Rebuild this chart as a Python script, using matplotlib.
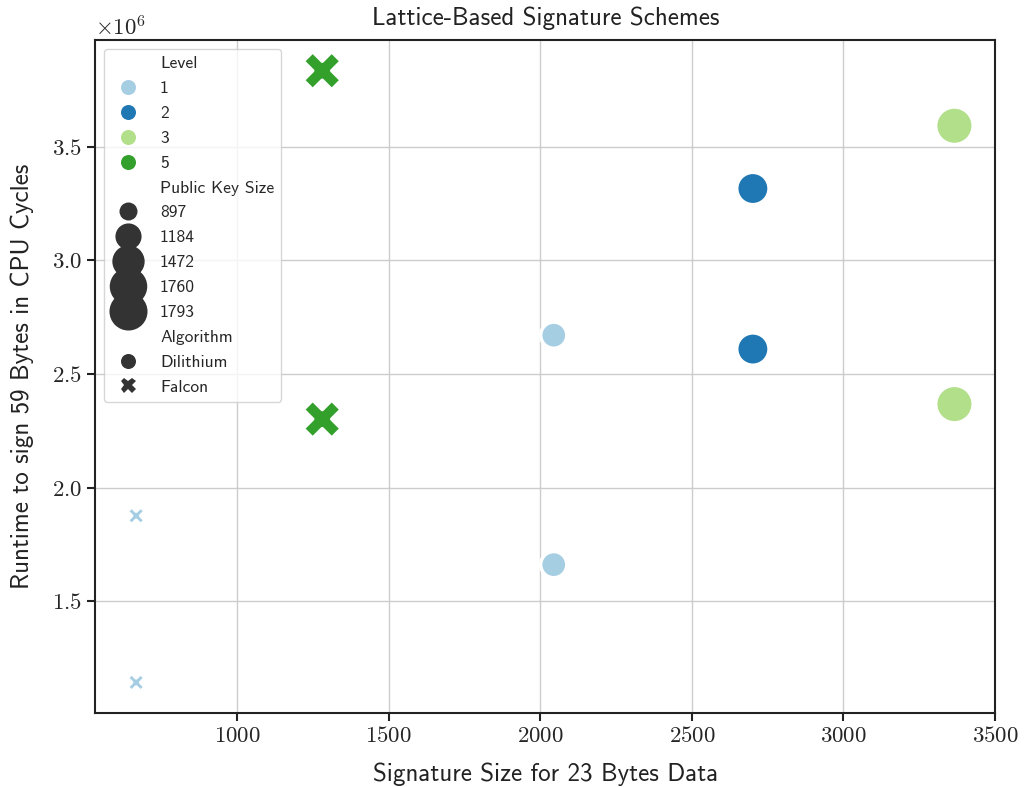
import numpy as np
import pandas as pd
import matplotlib
matplotlib.use("Agg")
import matplotlib.pyplot as plt
import seaborn as sns

# values
algorithm = ["Dilithium", "Dilithium", "Dilithium", "Dilithium", "Dilithium", "Dilithium",
             "Falcon", "Falcon", "Falcon", "Falcon"]
level = [1, 1, 2, 2, 3, 3, 1, 1, 5, 5]
sig_size = [2044, 2044, 2701, 2701, 3366, 3366, 666, 666, 1280, 1280]
pk_size = [1184, 1184, 1472, 1472, 1760, 1760, 897, 897, 1793, 1793]
cycles = [2.671e6, 1.662e6, 3.316e6, 2.610e6, 3.592e6, 2.368e6,
          1.877e6, 1.144e6, 3.834e6, 2.302e6]

df = pd.DataFrame({
    "Algorithm": algorithm,
    "Level": level,
    "Signature Size": sig_size,
    "Public Key Size": pk_size,
    "Cycles": cycles,
})

sns.set_theme(style="ticks", rc={"axes.grid": True, "grid.color": ".8"})
plt.rcParams["font.family"] = "cmr10"
plt.rcParams["mathtext.fontset"] = "cm"
plt.rcParams["axes.formatter.use_mathtext"] = True

fig, ax = plt.subplots(figsize=(10.24, 7.87), dpi=100)
fig.subplots_adjust(left=0.093, right=0.972, top=0.949, bottom=0.094)

sns.scatterplot(data=df, x="Signature Size", y="Cycles", hue="Level",
                size="Public Key Size", style="Algorithm", palette="Paired",
                sizes=(168, 750), ax=ax)
ax.collections[0].set_linewidths(2.5)
ax.set_axisbelow(True)

for sp in ax.spines.values():
    sp.set_linewidth(1.5)
    sp.set_color("#222222")
ax.tick_params(labelsize=16.5, width=1.5, length=6, color="#222222")
ax.yaxis.get_offset_text().set_fontsize(16.5)

ax.set_title("Lattice-Based Signature Schemes", fontfamily="cmss10", fontsize=18,
             pad=11, color="#222222")
ax.set_xlabel("Signature Size for 23 Bytes Data", fontfamily="cmss10", fontsize=18,
              labelpad=12, color="#222222")
ax.set_ylabel("Runtime to sign 59 Bytes in CPU Cycles", fontfamily="cmss10", fontsize=18,
              labelpad=13, color="#222222")

old = ax.get_legend()
handles = old.legend_handles
labels = [t.get_text() for t in old.get_texts()]
old.remove()
size_labels = [str(v) for v in sorted(set(pk_size))]
for h, lab in zip(handles, labels):
    h.set_markeredgewidth(0)
    if lab not in size_labels:
        h.set_markersize(10.8)
ax.legend(handles, labels, loc="upper left", labelspacing=0.55,
          prop={"family": "cmss10", "size": 12.6})

fig.savefig("out.png", dpi=100)
